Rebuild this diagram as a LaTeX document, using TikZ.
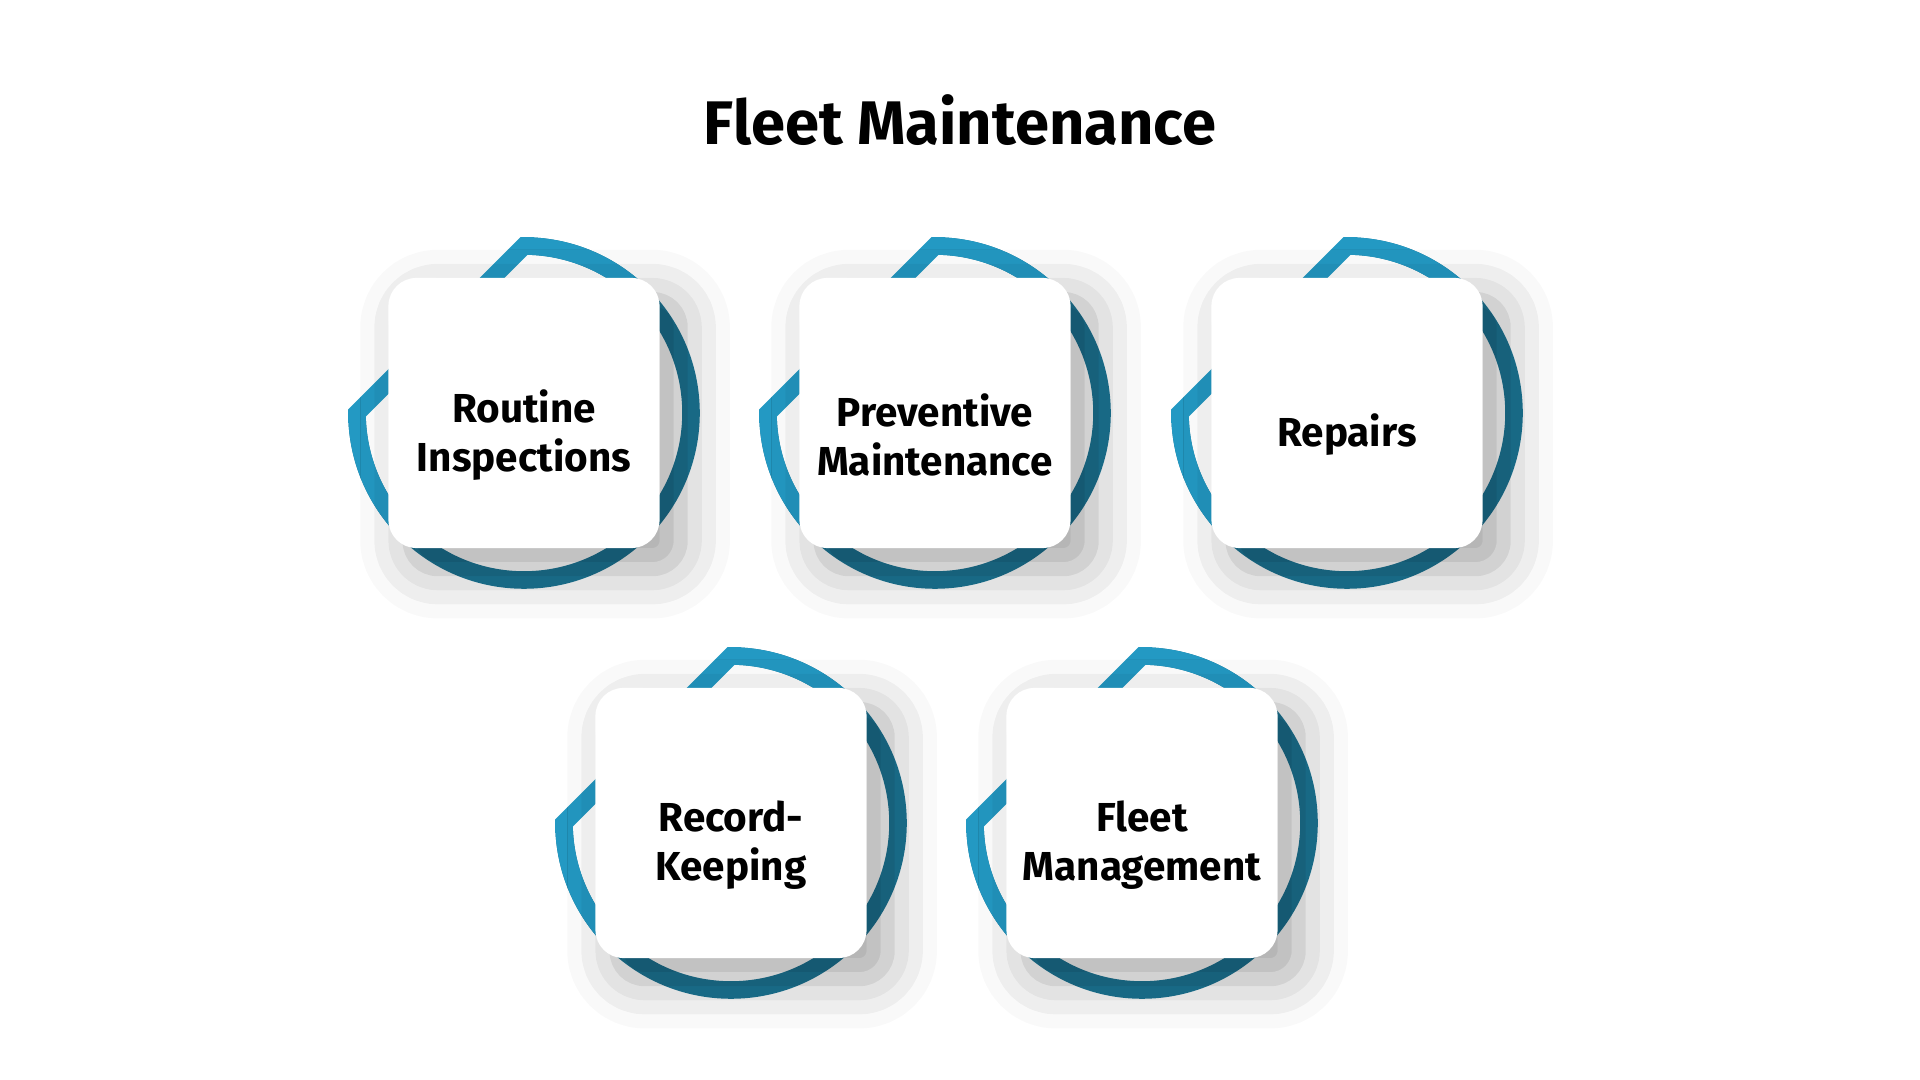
\documentclass[tikz,border=0pt]{standalone}
\usepackage{fontspec}
\setmainfont{Fira Sans}
\usetikzlibrary{shadows.blur}
\definecolor{ringlight}{HTML}{2399C3}
\definecolor{ringdark}{HTML}{1C7696}

\begin{document}
\begin{tikzpicture}[x=0.01cm,y=-0.01cm]
        \tikzstyle{ring}=[line width=5pt, ringlight]
        \tikzstyle{card}=[fill=white, rounded corners=8, minimum width=2.71cm, minimum height=2.70cm,
                          blur shadow={shadow xshift=6pt, shadow yshift=-6pt, shadow blur radius=14pt, shadow opacity=35}]
        \tikzstyle{label}=[font=\fontsize{11.5}{14}\selectfont\bfseries, align=center]

        \useasboundingbox (0,0) rectangle (1920,1080);

        % Title
        \node[font=\fontsize{17.5}{21}\selectfont\bfseries] (title) at (960,120) {Fleet Maintenance};

        % Draw the five rings with their cards
        \foreach \name / \x / \y / \txt in {ri/524/413/{Routine\\Inspections},
                                            pm/935/413/{Preventive\\Maintenance},
                                            rp/1347/413/{Repairs},
                                            rk/731/823/{Record-\\Keeping},
                                            fm/1142/823/{Fleet\\Management}} {
            \coordinate (\name-c) at (\x,\y);
            \draw[ring, draw=ringdark] (\x,\y-167) arc[start angle=-90, end angle=180, radius=167];
            \draw[ring] (\x,\y-167) arc[start angle=-90, end angle=-40, radius=167];
            \draw[ring] (\x-167,\y) arc[start angle=180, end angle=140, radius=167];
            \draw[ring, line join=miter] (\x-167,\y+10) -- (\x-167,\y) -- (\x,\y-167) -- (\x+10,\y-167);
            \node[card] (\name) at (\x,\y) {};
            \node[label] (\name-t) at (\x,\y+22) {\txt};
        }
\end{tikzpicture}
\end{document}
